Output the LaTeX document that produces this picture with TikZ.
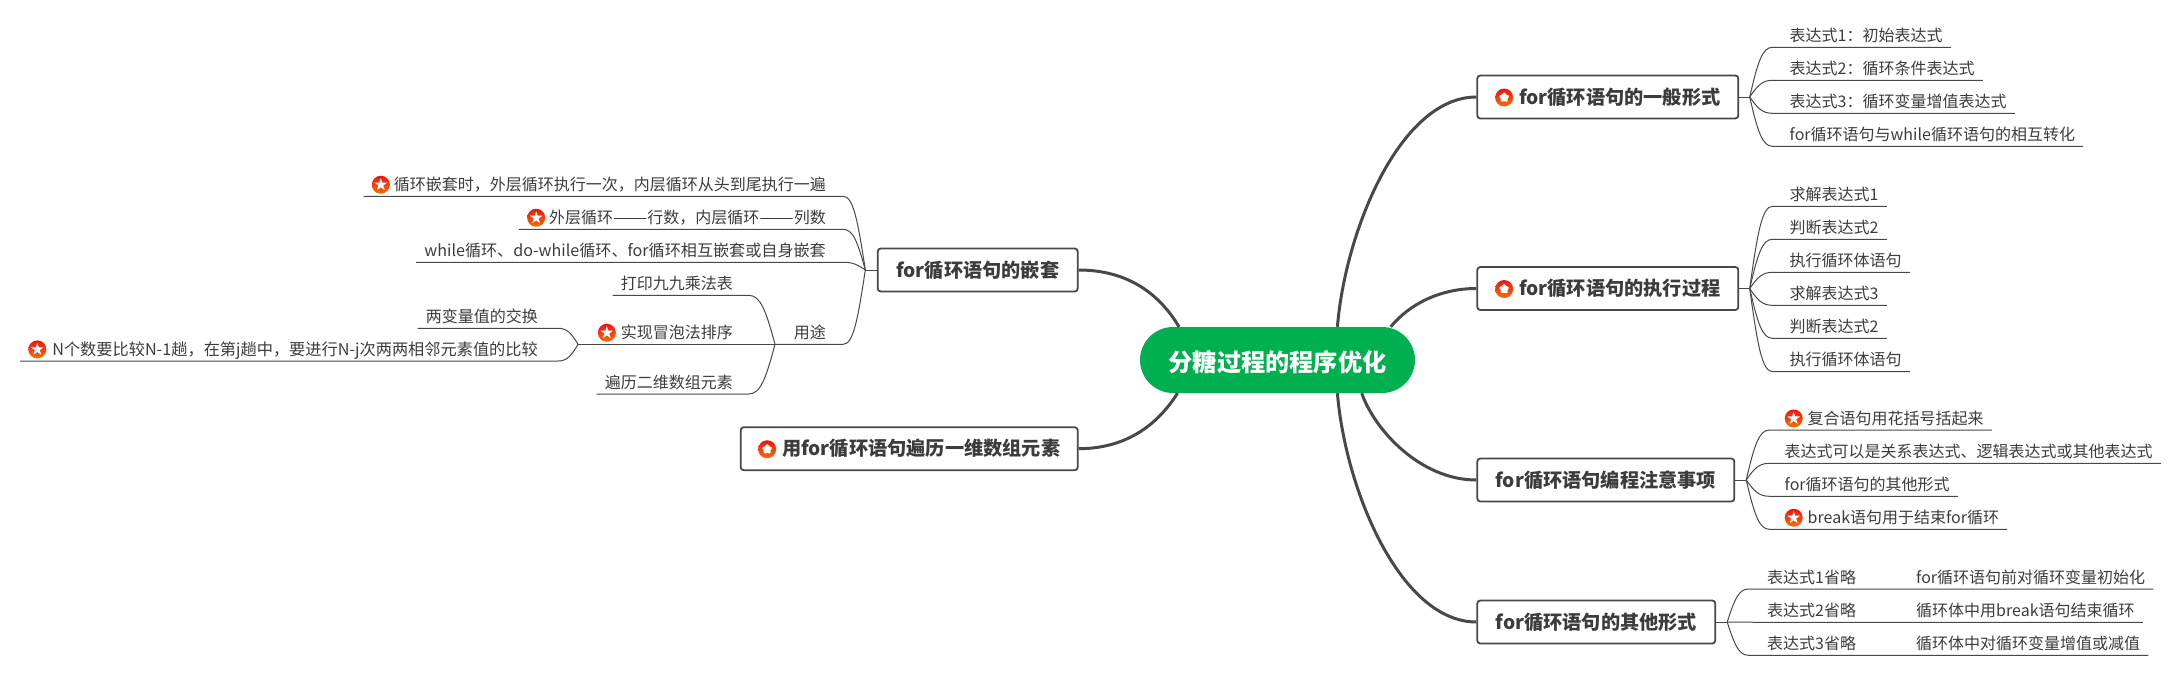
\documentclass[tikz,border=0pt]{standalone}
\usepackage{fontspec}
\setmainfont{Noto Sans CJK SC}
\usetikzlibrary{calc}
\definecolor{rootgreen}{HTML}{00B050}
\definecolor{inkgray}{HTML}{3C3C3C}
\definecolor{edgegray}{HTML}{484848}
\definecolor{stared}{HTML}{EE1410}
\definecolor{starorange}{HTML}{F96E08}
\newcommand{\staricon}{\tikz[baseline=-0.35em,x=1pt,y=1pt]{%
  \shade[top color=stared,bottom color=starorange] (0,0) circle(9);
  \fill[white] (90:6.6) -- (126:2.6) -- (162:6.6) -- (198:2.6) -- (234:6.6) -- (270:2.6) -- (306:6.6) -- (342:2.6) -- (18:6.6) -- (54:2.6) -- cycle;}}
\tikzset{
  rootbox/.style={fill=rootgreen,rounded corners=33pt,minimum width=275pt,minimum height=66pt,inner sep=0pt,text=white,font=\fontsize{24.2pt}{28pt}\selectfont\bfseries,text height=25pt,text depth=3pt},
  topicbox/.style={draw=edgegray,line width=1.8pt,fill=white,rounded corners=3pt,minimum height=43pt,inner sep=0pt,text=inkgray,font=\fontsize{19.2pt}{24pt}\selectfont\bfseries,text height=16.5pt,text depth=2pt},
  leaf/.style={inner xsep=8pt,inner ysep=0pt,minimum height=24pt,text=inkgray,font=\fontsize{16pt}{20pt}\selectfont,text height=14.5pt,text depth=2pt},
  bigline/.style={draw=edgegray,line width=3pt},
  thinline/.style={draw=edgegray,line width=1pt},
  twig/.style={to path={let \p1=(\tikztostart),\p2=(\tikztotarget) in .. controls ({\x1+.35*(\x2-\x1)},{\y1+.7*(\y2-\y1)}) and ({\x2-.45*(\x2-\x1)},\y2) .. (\tikztotarget)}}
}
\begin{document}
\begin{tikzpicture}[x=1pt,y=-1pt]
  \useasboundingbox (0,0) rectangle (2183,677);
  % centre
  \node[rootbox] (root) at (1277.5,360) {分糖过程的程序优化};
  % right topics
  \node[topicbox,anchor=west,minimum width=261pt] (general) at (1476.4,97) {\staricon\hspace{6pt}for循环语句的一般形式};
  \node[topicbox,anchor=west,minimum width=261pt] (running) at (1476.4,288.5) {\staricon\hspace{6pt}for循环语句的执行过程};
  \node[topicbox,anchor=west,minimum width=257pt] (notes) at (1476.4,480) {for循环语句编程注意事项};
  \node[topicbox,anchor=west,minimum width=238pt] (forms) at (1476.4,622) {for循环语句的其他形式};
  % left topics
  \node[topicbox,anchor=east,minimum width=200pt] (nesting) at (1078.6,270) {for循环语句的嵌套};
  \node[topicbox,anchor=east,minimum width=337pt] (walk) at (1078.6,448.7) {\staricon\hspace{6pt}用for循环语句遍历一维数组元素};
  % thick branches
  \draw[bigline] ([xshift=59.9pt]root.north) .. controls +(8,-97) and +(-76,0) .. (general.west);
  \draw[bigline] ([xshift=113.2pt]root.north) .. controls +(19,-23) and +(-36,0) .. (running.west);
  \draw[bigline] ([xshift=84.2pt]root.south) .. controls +(13,37) and +(-56,0) .. (notes.west);
  \draw[bigline] ([xshift=59.9pt]root.south) .. controls +(8,97) and +(-76,0) .. (forms.west);
  \draw[bigline] ([xshift=-98.5pt]root.north) .. controls +(-19,-32) and +(50,0) .. (nesting.east);
  \draw[bigline] ([xshift=-100pt]root.south) .. controls +(-17,27) and +(52,0) .. (walk.east);
  % forks
  \coordinate (forkgeneral) at ([xshift=10.5pt]general.east);
  \coordinate (forkrunning) at ([xshift=10.5pt]running.east);
  \coordinate (forknotes) at ([xshift=11pt]notes.east);
  \coordinate (forkforms) at ([xshift=11pt]forms.east);
  \coordinate (forknesting) at ([xshift=-11.5pt]nesting.west);
  \draw[thinline] (general) -- (forkgeneral);
  \draw[thinline] (running) -- (forkrunning);
  \draw[thinline] (notes) -- (forknotes);
  \draw[thinline] (forms) -- (forkforms);
  \draw[thinline] (nesting) -- (forknesting);
  % for循环语句的一般形式
  \node[leaf,anchor=south west] (genA) at (1781.5,47.3) {表达式1：初始表达式};
  \node[leaf,anchor=south west] (genB) at (1781.5,80.3) {表达式2：循环条件表达式};
  \node[leaf,anchor=south west] (genC) at (1781.5,113.3) {表达式3：循环变量增值表达式};
  \node[leaf,anchor=south west] (genD) at (1781.5,146.3) {for循环语句与while循环语句的相互转化};
  \draw[thinline] (forkgeneral) to[twig] ([xshift=-9pt]genA.south west) -- (genA.south east);
  \draw[thinline] (forkgeneral) to[twig] ([xshift=-9pt]genB.south west) -- (genB.south east);
  \draw[thinline] (forkgeneral) to[twig] ([xshift=-9pt]genC.south west) -- (genC.south east);
  \draw[thinline] (forkgeneral) to[twig] ([xshift=-9pt]genD.south west) -- (genD.south east);
  % for循环语句的执行过程
  \node[leaf,anchor=south west] (runA) at (1781.5,206.3) {求解表达式1};
  \node[leaf,anchor=south west] (runB) at (1781.5,239.3) {判断表达式2};
  \node[leaf,anchor=south west] (runC) at (1781.5,272.3) {执行循环体语句};
  \node[leaf,anchor=south west] (runD) at (1781.5,305.3) {求解表达式3};
  \node[leaf,anchor=south west] (runE) at (1781.5,338.3) {判断表达式2};
  \node[leaf,anchor=south west] (runF) at (1781.5,371.6) {执行循环体语句};
  \draw[thinline] (forkrunning) to[twig] ([xshift=-9pt]runA.south west) -- (runA.south east);
  \draw[thinline] (forkrunning) to[twig] ([xshift=-9pt]runB.south west) -- (runB.south east);
  \draw[thinline] (forkrunning) to[twig] ([xshift=-9pt]runC.south west) -- (runC.south east);
  \draw[thinline] (forkrunning) to[twig] ([xshift=-9pt]runD.south west) -- (runD.south east);
  \draw[thinline] (forkrunning) to[twig] ([xshift=-9pt]runE.south west) -- (runE.south east);
  \draw[thinline] (forkrunning) to[twig] ([xshift=-9pt]runF.south west) -- (runF.south east);
  % for循环语句编程注意事项
  \node[leaf,anchor=south west] (noteA) at (1776.5,430) {\staricon\hspace{5pt}复合语句用花括号括起来};
  \node[leaf,anchor=south west] (noteB) at (1776.5,463.3) {表达式可以是关系表达式、逻辑表达式或其他表达式};
  \node[leaf,anchor=south west] (noteC) at (1776.5,496.3) {for循环语句的其他形式};
  \node[leaf,anchor=south west] (noteD) at (1776.5,529.3) {\staricon\hspace{5pt}break语句用于结束for循环};
  \draw[thinline] (forknotes) to[twig] ([xshift=-7pt]noteA.south west) -- (noteA.south east);
  \draw[thinline] (forknotes) to[twig] ([xshift=-7pt]noteB.south west) -- (noteB.south east);
  \draw[thinline] (forknotes) to[twig] ([xshift=-7pt]noteC.south west) -- (noteC.south east);
  \draw[thinline] (forknotes) to[twig] ([xshift=-7pt]noteD.south west) -- (noteD.south east);
  % for循环语句的其他形式
  \node[leaf,anchor=south west] (formA) at (1759,589) {表达式1省略};
  \node[leaf,anchor=south west] (formB) at (1759,622.3) {表达式2省略};
  \node[leaf,anchor=south west] (formC) at (1759,655.3) {表达式3省略};
  \node[leaf,anchor=south west] (whyA) at (1908,589) {for循环语句前对循环变量初始化};
  \node[leaf,anchor=south west] (whyB) at (1908,622.3) {循环体中用break语句结束循环};
  \node[leaf,anchor=south west] (whyC) at (1908,655.3) {循环体中对循环变量增值或减值};
  \draw[thinline] (forkforms) to[twig] ([xshift=-10.5pt]formA.south west) -- (whyA.south west) -- (whyA.south east);
  \draw[thinline] (forkforms) -- (formB.south west) -- (whyB.south west) -- (whyB.south east);
  \draw[thinline] (forkforms) to[twig] ([xshift=-10.5pt]formC.south west) -- (whyC.south west) -- (whyC.south east);
  % for循环语句的嵌套
  \node[leaf,anchor=south east] (nestA) at (834,196.3) {\staricon\hspace{4pt}循环嵌套时，外层循环执行一次，内层循环从头到尾执行一遍};
  \node[leaf,anchor=south east] (nestB) at (834,229.3) {\staricon\hspace{4pt}外层循环\scalebox{1.28}[1]{——}行数，内层循环\scalebox{1.28}[1]{——}列数};
  \node[leaf,anchor=south east,font=\fontsize{16.1pt}{20pt}\selectfont] (nestC) at (834,262.3) {while循环、do-while循环、for循环相互嵌套或自身嵌套};
  \node[leaf,anchor=south east] (usage) at (834,344.3) {用途};
  \draw[thinline] (forknesting) to[twig] ([xshift=9pt]nestA.south east) -- (nestA.south west);
  \draw[thinline] (forknesting) to[twig] ([xshift=9pt]nestB.south east) -- (nestB.south west);
  \draw[thinline] (forknesting) to[twig] ([xshift=9pt]nestC.south east) -- (nestC.south west);
  \coordinate (forkusage) at (775,344.3);
  \draw[thinline] (forknesting) to[twig] ([xshift=9pt]usage.south east) -- (forkusage);
  % 用途
  \node[leaf,anchor=south east] (useA) at (741,295.3) {打印九九乘法表};
  \node[leaf,anchor=south east] (useB) at (741,344.3) {\staricon\hspace{5pt}实现冒泡法排序};
  \node[leaf,anchor=south east] (useC) at (741,394) {遍历二维数组元素};
  \coordinate (forkbubble) at ([xshift=-11.5pt]useB.south west);
  \draw[thinline] (forkusage) to[twig] ([xshift=7.5pt]useA.south east) -- (useA.south west);
  \draw[thinline] (forkusage) -- (forkbubble);
  \draw[thinline] (forkusage) to[twig] ([xshift=7.5pt]useC.south east) -- (useC.south west);
  % 实现冒泡法排序
  \node[leaf,anchor=south east] (swap) at (546,328.3) {两变量值的交换};
  \node[leaf,anchor=south east,font=\fontsize{16.2pt}{20pt}\selectfont] (compare) at (546,361) {\staricon\hspace{6pt}N个数要比较N-1趟，在第j趟中，要进行N-j次两两相邻元素值的比较};
  \draw[thinline] (forkbubble) to[twig] ([xshift=12pt]swap.south east) -- (swap.south west);
  \draw[thinline] (forkbubble) to[twig] ([xshift=12pt]compare.south east) -- (compare.south west);
\end{tikzpicture}
\end{document}
